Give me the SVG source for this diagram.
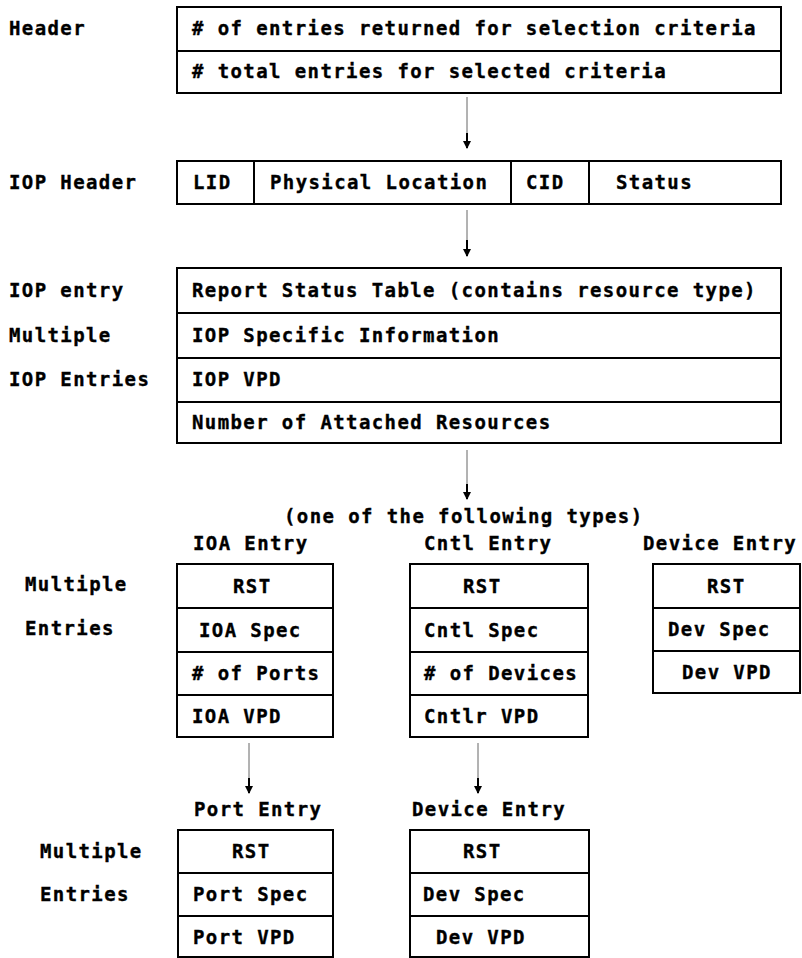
<svg xmlns="http://www.w3.org/2000/svg" width="802" height="958" viewBox="0 0 802 958">
<style>
text{font-family:"DejaVu Sans Mono","Liberation Mono",monospace;font-weight:bold;font-size:19px;letter-spacing:1.4px;fill:#000;stroke:#000;stroke-width:0.35}
.box{fill:#fff;stroke:#000;stroke-width:2}
.div{stroke:#000;stroke-width:2}
.wire{stroke:#666;stroke-width:1;fill:none}
.head{stroke:#000;stroke-width:2;fill:none}
</style>
<defs>
<marker id="arr" viewBox="0 0 8 8" refX="7" refY="4" markerWidth="8" markerHeight="8" markerUnits="userSpaceOnUse" orient="auto">
<path d="M0,0 L8,4 L0,8 Z" fill="#000"/>
</marker>
</defs>
<rect width="802" height="958" fill="#fff"/>

<g id="labels">
<text x="9" y="35">Header</text>
<text x="9" y="189">IOP Header</text>
<text x="9" y="297">IOP entry</text>
<text x="9" y="342">Multiple</text>
<text x="9" y="386">IOP Entries</text>
<text x="284" y="523">(one of the following types)</text>
<text x="25" y="591">Multiple</text>
<text x="25" y="635">Entries</text>
<text x="40" y="858">Multiple</text>
<text x="40" y="901">Entries</text>
</g>

<g id="header">
<rect class="box" x="177" y="7" width="604" height="86"/>
<line class="div" x1="177" y1="51" x2="781" y2="51"/>
<text x="192" y="35"># of entries returned for selection criteria</text>
<text x="192" y="78"># total entries for selected criteria</text>
</g>

<g id="iop-header">
<rect class="box" x="177" y="161" width="604" height="43"/>
<line class="div" x1="254" y1="161" x2="254" y2="204"/>
<line class="div" x1="511" y1="161" x2="511" y2="204"/>
<line class="div" x1="589" y1="161" x2="589" y2="204"/>
<text x="193" y="189">LID</text>
<text x="270" y="189">Physical Location</text>
<text x="526" y="189">CID</text>
<text x="616" y="189">Status</text>
</g>

<g id="iop-entry">
<rect class="box" x="177" y="268" width="604" height="175"/>
<line class="div" x1="177" y1="313" x2="781" y2="313"/>
<line class="div" x1="177" y1="358" x2="781" y2="358"/>
<line class="div" x1="177" y1="402" x2="781" y2="402"/>
<text x="192" y="297">Report Status Table (contains resource type)</text>
<text x="192" y="342">IOP Specific Information</text>
<text x="192" y="386">IOP VPD</text>
<text x="192" y="429">Number of Attached Resources</text>
</g>

<g id="ioa-entry">
<text x="193" y="550">IOA Entry</text>
<rect class="box" x="177" y="564" width="156" height="173"/>
<line class="div" x1="177" y1="608" x2="333" y2="608"/>
<line class="div" x1="177" y1="652" x2="333" y2="652"/>
<line class="div" x1="177" y1="695" x2="333" y2="695"/>
<text x="233" y="593">RST</text>
<text x="199" y="637">IOA Spec</text>
<text x="192" y="680"># of Ports</text>
<text x="192" y="723">IOA VPD</text>
</g>

<g id="cntl-entry">
<text x="424" y="550">Cntl Entry</text>
<rect class="box" x="410" y="564" width="178" height="173"/>
<line class="div" x1="410" y1="608" x2="588" y2="608"/>
<line class="div" x1="410" y1="652" x2="588" y2="652"/>
<line class="div" x1="410" y1="695" x2="588" y2="695"/>
<text x="463" y="593">RST</text>
<text x="424" y="637">Cntl Spec</text>
<text x="424" y="680"># of Devices</text>
<text x="424" y="723">Cntlr VPD</text>
</g>

<g id="device-entry-top">
<text x="643" y="550">Device Entry</text>
<rect class="box" x="653" y="564" width="147" height="129"/>
<line class="div" x1="653" y1="608" x2="800" y2="608"/>
<line class="div" x1="653" y1="651" x2="800" y2="651"/>
<text x="707" y="593">RST</text>
<text x="668" y="636">Dev Spec</text>
<text x="682" y="679">Dev VPD</text>
</g>

<g id="port-entry">
<text x="194" y="816">Port Entry</text>
<rect class="box" x="178" y="830" width="155" height="127"/>
<line class="div" x1="178" y1="873" x2="333" y2="873"/>
<line class="div" x1="178" y1="916" x2="333" y2="916"/>
<text x="232" y="858">RST</text>
<text x="193" y="901">Port Spec</text>
<text x="193" y="944">Port VPD</text>
</g>

<g id="device-entry-bottom">
<text x="412" y="816">Device Entry</text>
<rect class="box" x="410" y="830" width="179" height="127"/>
<line class="div" x1="410" y1="873" x2="589" y2="873"/>
<line class="div" x1="410" y1="916" x2="589" y2="916"/>
<text x="463" y="858">RST</text>
<text x="423" y="901">Dev Spec</text>
<text x="436" y="944">Dev VPD</text>
</g>

<g id="connectors">
<line class="wire" x1="467" y1="97" x2="467" y2="134"/>
<line class="head" x1="467" y1="133" x2="467" y2="148" marker-end="url(#arr)"/>
<line class="wire" x1="467" y1="210" x2="467" y2="241"/>
<line class="head" x1="467" y1="240" x2="467" y2="256" marker-end="url(#arr)"/>
<line class="wire" x1="467" y1="450" x2="467" y2="485"/>
<line class="head" x1="467" y1="484" x2="467" y2="499" marker-end="url(#arr)"/>
<line class="wire" x1="249" y1="743" x2="249" y2="779"/>
<line class="head" x1="249" y1="778" x2="249" y2="793" marker-end="url(#arr)"/>
<line class="wire" x1="478" y1="743" x2="478" y2="779"/>
<line class="head" x1="478" y1="778" x2="478" y2="793" marker-end="url(#arr)"/>
</g>
</svg>
